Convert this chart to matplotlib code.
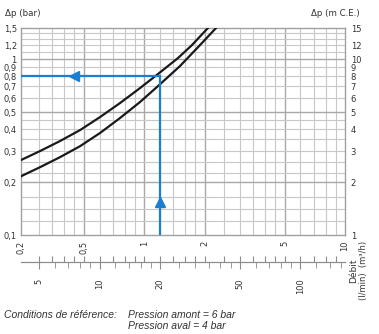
import matplotlib.pyplot as plt
from matplotlib.ticker import NullFormatter, NullLocator

# flow (m3/h) vs pressure drop (bar)
q_upper = [0.244, 0.303, 0.381, 0.480, 0.603, 0.758, 0.954, 1.172, 1.474, 1.730, 2.054, 2.18]
dp_upper = [0.267, 0.300, 0.342, 0.395, 0.468, 0.562, 0.684, 0.822, 1.013, 1.20, 1.48, 1.59]
q_lower = [0.244, 0.303, 0.381, 0.480, 0.603, 0.758, 0.954, 1.172, 1.508, 1.897, 2.304]
dp_lower = [0.216, 0.243, 0.277, 0.320, 0.380, 0.462, 0.570, 0.702, 0.912, 1.20, 1.52]

# operating point (blue reading lines)
q_op = 1.2
dp_op = 0.8

q_min, q_max = 0.244, 10
dp_min, dp_max = 0.1, 1.5
lmin_per_m3h = 1000 / 60

dp_ticks = [0.1, 0.2, 0.3, 0.4, 0.5, 0.6, 0.7, 0.8, 0.9, 1, 1.2, 1.5]
dp_labels = ["0,1", "0,2", "0,3", "0,4", "0,5", "0,6", "0,7", "0,8", "0,9", "1", "1,2", "1,5"]
mce_ticks = [1, 2, 3, 4, 5, 6, 7, 8, 9, 10, 12, 15]
q_ticks = [q_min, 0.5, 1, 2, 5, 10]
q_labels = ["0,2", "0,5", "1", "2", "5", "10"]
lmin_ticks = [5, 10, 20, 50, 100]
lmin_minor = [6, 7, 8, 9, 12, 14, 16, 18, 25, 30, 35, 40, 45,
              60, 70, 80, 90, 120, 140, 160]

vgrid_minor = [0.3, 0.35, 0.4, 0.45, 0.6, 0.7, 0.8, 0.9, 1.2, 1.4, 1.6, 1.8,
               2.5, 3, 3.5, 4, 4.5, 6, 7, 8, 9]
vgrid_major = [0.5, 1, 2, 5]
hgrid_minor = [0.12, 0.14, 0.165, 0.225, 0.26, 0.3, 0.35, 0.4, 0.45,
               0.6, 0.7, 0.8, 0.9, 1.1, 1.2, 1.3, 1.4]
hgrid_major = [0.2, 0.5, 1]

txt = "#333333"
blue = "#1a7fd0"
scale_col = "#8c8c8c"

fig = plt.figure(figsize=(3.79, 3.34), dpi=100)
ax = fig.add_axes([0.0554, 0.296, 0.855, 0.620])
ax.set_xscale("log")
ax.set_yscale("log")
ax.set_xlim(q_min, q_max)
ax.set_ylim(dp_min, dp_max)

for v in vgrid_minor:
    ax.axvline(v, color="#c8c8c8", lw=0.8, zorder=1)
for v in vgrid_major:
    ax.axvline(v, color="#a8a8a8", lw=1.0, zorder=1)
for h in hgrid_minor:
    ax.axhline(h, color="#c8c8c8", lw=0.8, zorder=1)
for h in hgrid_major:
    ax.axhline(h, color="#a8a8a8", lw=1.0, zorder=1)

ax.plot(q_upper, dp_upper, color="#1a1a1a", lw=1.6, zorder=3)
ax.plot(q_lower, dp_lower, color="#1a1a1a", lw=1.6, zorder=3)

# reading lines with arrow heads
ax.plot([q_min, q_op], [dp_op, dp_op], color=blue, lw=1.6, zorder=4)
ax.plot([q_op, q_op], [dp_min, dp_op], color=blue, lw=1.6, zorder=4)
ax.plot([0.45], [dp_op], marker="<", color=blue, ms=7, zorder=5)
ax.plot([q_op], [0.155], marker="^", color=blue, ms=7, zorder=5)

for s in ax.spines.values():
    s.set_color("#a0a0a0")
    s.set_linewidth(1.0)

ax.set_yticks(dp_ticks)
ax.set_yticklabels(dp_labels)
ax.yaxis.set_minor_locator(NullLocator())
ax.set_xticks(q_ticks)
ax.set_xticklabels(q_labels, rotation=90)
ax.xaxis.set_minor_locator(NullLocator())
ax.tick_params(axis="both", length=0, labelsize=6, colors=txt, pad=3)
ax.tick_params(axis="x", pad=4)

# right axis in m C.E.
axr = ax.twinx()
axr.set_yscale("log")
axr.set_ylim(dp_min * 10, dp_max * 10)
axr.set_yticks(mce_ticks)
axr.set_yticklabels([str(m) for m in mce_ticks])
axr.yaxis.set_minor_locator(NullLocator())
axr.tick_params(axis="y", length=0, labelsize=6, colors=txt, pad=4)
for s in axr.spines.values():
    s.set_visible(False)


def scale_axes():
    a = fig.add_axes([0.0554, 0.2156, 0.855, 0.0001])
    a.set_facecolor("none")
    a.set_xscale("log")
    for side in ["left", "right", "top"]:
        a.spines[side].set_visible(False)
    a.spines["bottom"].set_color(scale_col)
    a.set_yticks([])
    return a


# lower flow scale: m3/h marks above the line, l/min marks below
up = scale_axes()
up.set_xlim(q_min, q_max)
up.set_xticks(vgrid_major + vgrid_minor)
up.xaxis.set_minor_locator(NullLocator())
up.tick_params(axis="x", direction="in", length=4, color=scale_col,
               labelbottom=False)

sec = scale_axes()
sec.set_xlim(q_min * lmin_per_m3h, q_max * lmin_per_m3h)
sec.set_xticks(lmin_ticks)
sec.set_xticklabels([str(l) for l in lmin_ticks], rotation=90)
sec.set_xticks(lmin_minor, minor=True)
sec.xaxis.set_minor_formatter(NullFormatter())
sec.tick_params(axis="x", which="major", direction="out", length=5,
                color=scale_col, labelsize=6, labelcolor=txt, pad=7)
sec.tick_params(axis="x", which="minor", direction="out", length=4,
                color=scale_col)

fig.text(0.012, 0.961, "Δp (bar)", fontsize=6.3, color=txt, va="center")
fig.text(0.950, 0.961, "Δp (m C.E.)", fontsize=6.2, color=txt, va="center", ha="right")
fig.text(0.934, 0.19, "Débit", fontsize=6.5, color=txt, rotation=90,
         ha="center", va="center")
fig.text(0.958, 0.19, "(l/min)  (m³/h)", fontsize=6, color=txt, rotation=90,
         ha="center", va="center")

foot = dict(fontsize=7.5, color=txt, style="italic", family="Liberation Sans", va="center")
fig.text(0.010, 0.057, "Conditions de référence:", **foot)
fig.text(0.338, 0.057, "Pression amont = 6 bar", **foot)
fig.text(0.338, 0.024, "Pression aval = 4 bar", **foot)

fig.savefig("out.png", dpi=100)
